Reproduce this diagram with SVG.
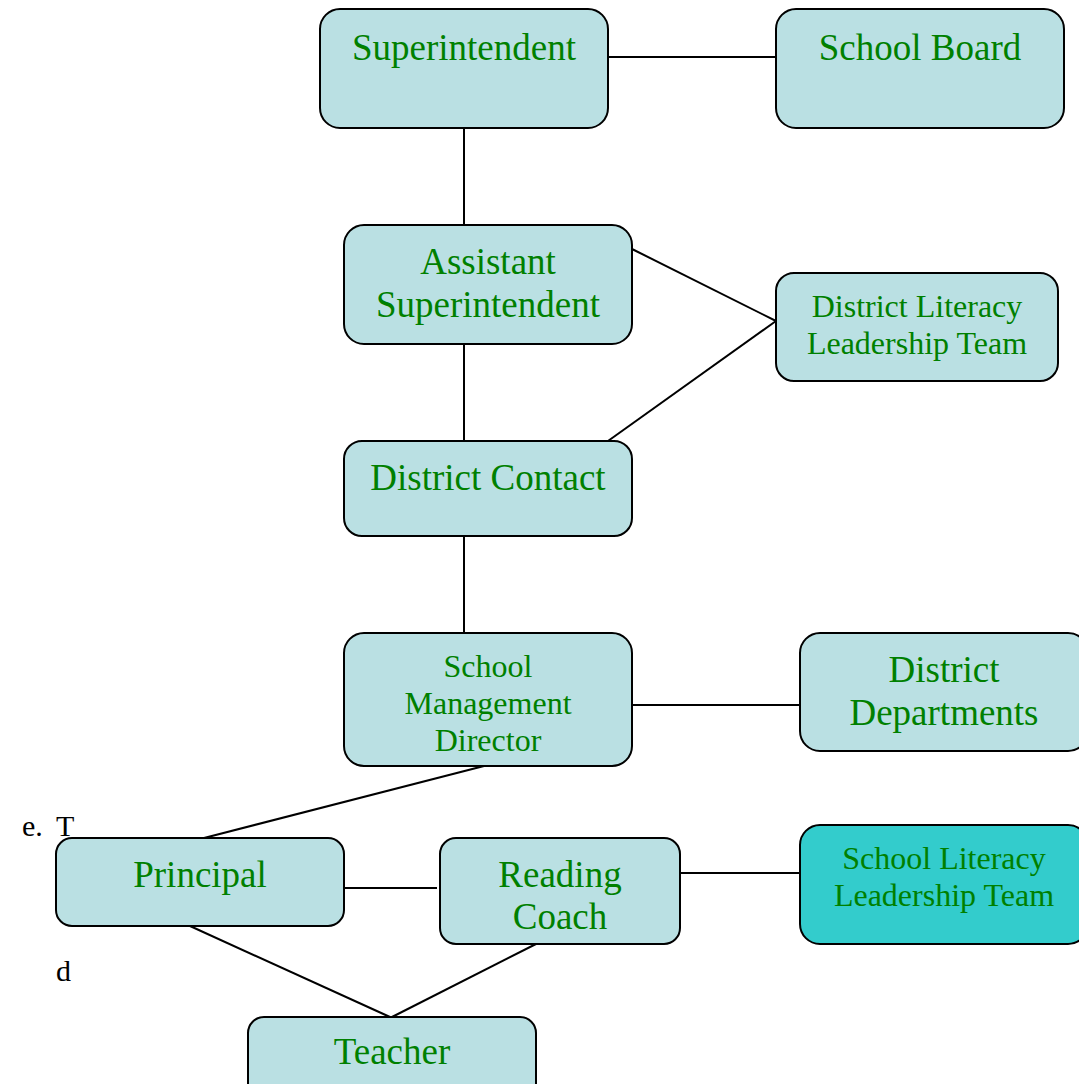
<svg xmlns="http://www.w3.org/2000/svg" width="1079" height="1084" viewBox="0 0 1079 1084">
<style>
.box{fill:#BAE0E3;stroke:#000;stroke-width:2}
.hi{fill:#33CCCC;stroke:#000;stroke-width:2}
.t{font-family:"Liberation Serif","Times New Roman",serif;fill:#008000;text-anchor:middle}
.b{font-size:37px}
.s{font-size:32px}
.k{font-family:"Liberation Serif","Times New Roman",serif;fill:#000;font-size:30px}
.c line{stroke:#000;stroke-width:2}
</style>
<rect width="1079" height="1084" fill="#fff"/>
<g class="c" id="connectors">
<line x1="608" y1="57" x2="776" y2="57"/>
<line x1="464" y1="128" x2="464" y2="225"/>
<line x1="632" y1="249" x2="776" y2="321"/>
<line x1="608" y1="441" x2="776" y2="321"/>
<line x1="464" y1="344" x2="464" y2="441"/>
<line x1="464" y1="536" x2="464" y2="633"/>
<line x1="632" y1="705" x2="800" y2="705"/>
<line x1="484" y1="766" x2="204" y2="838"/>
<line x1="344" y1="888" x2="437" y2="888"/>
<line x1="680" y1="873" x2="800" y2="873"/>
<line x1="190" y1="926" x2="390" y2="1017"/>
<line x1="536" y1="944" x2="392" y2="1017"/>
</g>
<g id="superintendent"><rect class="box" x="320" y="9" width="288" height="119" rx="20"/><text class="t b" x="464" y="60">Superintendent</text></g>
<g id="school-board"><rect class="box" x="776" y="9" width="288" height="119" rx="20"/><text class="t b" x="920" y="60">School Board</text></g>
<g id="assistant-superintendent"><rect class="box" x="344" y="225" width="288" height="119" rx="20"/><text class="t b" x="488" y="274">Assistant</text><text class="t b" x="488" y="317">Superintendent</text></g>
<g id="district-literacy"><rect class="box" x="776" y="273" width="282" height="108" rx="18"/><text class="t s" x="917" y="317">District Literacy</text><text class="t s" x="917" y="354">Leadership Team</text></g>
<g id="district-contact"><rect class="box" x="344" y="441" width="288" height="95" rx="18"/><text class="t b" x="488" y="490">District Contact</text></g>
<g id="school-management-director"><rect class="box" x="344" y="633" width="288" height="133" rx="20"/><text class="t s" x="488" y="677">School</text><text class="t s" x="488" y="714">Management</text><text class="t s" x="488" y="751">Director</text></g>
<g id="district-departments"><rect class="box" x="800" y="633" width="288" height="118" rx="20"/><text class="t b" x="944" y="682">District</text><text class="t b" x="944" y="725">Departments</text></g>
<g id="principal"><rect class="box" x="56" y="838" width="288" height="88" rx="16"/><text class="t b" x="200" y="887">Principal</text></g>
<g id="reading-coach"><rect class="box" x="440" y="838" width="240" height="106" rx="16"/><text class="t b" x="560" y="887">Reading</text><text class="t b" x="560" y="929">Coach</text></g>
<g id="school-literacy"><rect class="hi" x="800" y="825" width="288" height="119" rx="20"/><text class="t s" x="944" y="869">School Literacy</text><text class="t s" x="944" y="906">Leadership Team</text></g>
<g id="teacher"><rect class="box" x="248" y="1017" width="288" height="90" rx="16"/><text class="t b" x="392" y="1064">Teacher</text></g>
<text class="k" x="22" y="836">e.</text>
<text class="k" x="56" y="836">T</text>
<text class="k" x="56" y="981">d</text>
</svg>
